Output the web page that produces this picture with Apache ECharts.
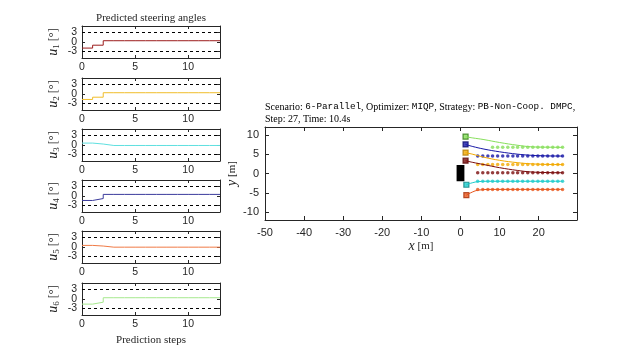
<!DOCTYPE html>
<html><head><meta charset="utf-8">
<script src="https://cdn.jsdelivr.net/npm/echarts@6/dist/echarts.min.js"></script>
<style>html,body{margin:0;padding:0;background:#fff}#c{width:640px;height:360px}</style>
</head><body><div id="c"></div>
<script>
// ---------- left: predicted steering angles (deg) per step ----------
const stepsEnd = 13;
const u1 = [-1.9, -1.0, 0.4, 0.4, 0.4, 0.4, 0.4, 0.4, 0.4, 0.4, 0.4, 0.4, 0.4];
const u2 = [-1.7, -1.0, 0.4, 0.4, 0.4, 0.4, 0.4, 0.4, 0.4, 0.4, 0.4, 0.4, 0.4];
const u3 = [0.6, 0.3, -0.15, -0.15, -0.15, -0.15, -0.15, -0.15, -0.15, -0.15, -0.15, -0.15, -0.15];
const u4 = [-1.4, -0.8, 0.5, 0.5, 0.5, 0.5, 0.5, 0.5, 0.5, 0.5, 0.5, 0.5, 0.5];
const u5 = [0.5, 0.3, -0.05, -0.05, -0.05, -0.05, -0.05, -0.05, -0.05, -0.05, -0.05, -0.05, -0.05];
const u6 = [-1.6, -1.0, 0.4, 0.4, 0.4, 0.4, 0.4, 0.4, 0.4, 0.4, 0.4, 0.4, 0.4];
const uSeries = [u1, u2, u3, u4, u5, u6];
const uColors = ['#9b1c1c', '#f0bd2a', '#5fe0e0', '#3b3b9c', '#f07a45', '#a6e88e'];
const uTickY = [-3, 0, 3];
const uLabelOuter = [-3, 3];
const uLabelMid = [0];
const uTickX = [0, 5, 10];
const uBounds = [3, -3];

// ---------- right: scenario plot ----------
const vehColors = ['#7a0c0c', '#f2a900', '#1ecccc', '#1616a6', '#e8561c', '#86df5a'];
const vehDark   = ['#5a0606', '#b07800', '#0a8080', '#0a0a70', '#a83008', '#2e7a12'];
const posX = [1.3, 1.3, 1.5, 1.3, 1.5, 1.3];
const posY = [3.3, 5.4, -2.9, 7.5, -5.6, 9.5];
const path1X = [1.3, 3, 6, 10, 14.5, 18, 22, 26.1];
const path1Y = [3.3, 2.9, 2.3, 1.5, 0.8, 0.4, 0.25, 0.2];
const path2X = [1.3, 3, 6, 10, 14.5, 18, 22, 26.1];
const path2Y = [5.4, 5.0, 4.2, 3.4, 2.8, 2.5, 2.35, 2.3];
const path3X = [1.5, 3, 4.5, 8, 26.1];
const path3Y = [-2.9, -2.4, -2.1, -2.0, -2.0];
const path4X = [1.3, 3, 6, 10, 14.5, 18, 22, 26.1];
const path4Y = [7.5, 7.0, 6.3, 5.6, 5.0, 4.7, 4.55, 4.5];
const path5X = [1.5, 3, 4.5, 8, 26.1];
const path5Y = [-5.6, -4.8, -4.3, -4.1, -4.1];
const path6X = [1.3, 3, 6, 10, 14.5, 18, 22, 26.1];
const path6Y = [9.5, 9.2, 8.75, 8.0, 7.3, 6.9, 6.8, 6.75];
const pathsX = [path1X, path2X, path3X, path4X, path5X, path6X];
const pathsY = [path1Y, path2Y, path3Y, path4Y, path5Y, path6Y];
const dotsX = [4.4, 5.7, 7.0, 8.2, 9.5, 10.8, 12.1, 13.4, 14.6, 15.9, 17.2, 18.5, 19.8, 21.0, 22.3, 23.6, 24.9, 26.1];
const dotsStart = [0, 0, 0, 0, 0, 3];
const dotsY = [0.2, 2.3, -2.0, 4.5, -4.1, 6.75];
const obstacle = [-1.0, 1.0, -2.0, 2.2]; // xmin, xmax, ymin, ymax
const xTickVals = [-50, -40, -30, -20, -10, 0, 10, 20];
const yTickVals = [-10, -5, 0, 5, 10];

const AX = '#262626';
const SANS = 'Liberation Sans';
const SERIF = 'Liberation Serif';
const MONO = 'Liberation Mono';

const line = {show: true, onZero: false, lineStyle: {color: AX, width: 1}};
const gridTops = [26, 78, 129, 180, 231, 283];
const grids = [], xAxes = [], yAxes = [], series = [];

gridTops.forEach((t, i) => {
  grids.push({left: 82, width: 138, top: t, height: 32});
  const last = i === gridTops.length - 1;
  xAxes.push({type: 'value', gridIndex: i, min: 0, max: stepsEnd, position: 'bottom',
    axisLine: line,
    axisTick: {show: true, inside: true, length: 3, customValues: uTickX, lineStyle: {color: AX}},
    axisLabel: {color: AX, fontFamily: SANS, fontSize: 10.5, margin: 4, customValues: uTickX},
    splitLine: {show: false},
    name: last ? 'Prediction steps' : '', nameLocation: 'middle', nameGap: 20,
    nameTextStyle: {fontFamily: SERIF, fontSize: 11, color: AX}});
  xAxes.push({type: 'value', gridIndex: i, min: 0, max: stepsEnd, position: 'top',
    axisLine: line,
    axisTick: {show: true, inside: true, length: 3, customValues: uTickX, lineStyle: {color: AX}},
    axisLabel: {show: false}, splitLine: {show: false}});
  yAxes.push({type: 'value', gridIndex: i, min: -5, max: 5, position: 'left',
    axisLine: line,
    axisTick: {show: true, inside: true, length: 3, customValues: uTickY, lineStyle: {color: AX}},
    axisLabel: {color: AX, fontFamily: SANS, fontSize: 10.5, margin: 5, customValues: uLabelOuter},
    splitLine: {show: false},
    name: '{i|u}{s|' + (i + 1) + '}{n| [°]}', nameLocation: 'middle', nameGap: 21, nameRotate: 90,
    nameTextStyle: {rich: {
      i: {fontFamily: SERIF, fontStyle: 'italic', fontSize: 14, color: AX},
      s: {fontFamily: SERIF, fontSize: 9, color: AX, padding: [6, 0, 0, 0]},
      n: {fontFamily: SERIF, fontSize: 12, color: AX}}}});
  yAxes.push({type: 'value', gridIndex: i, min: -5, max: 5, position: 'right',
    axisLine: line,
    axisTick: {show: true, inside: true, length: 3, customValues: uTickY, lineStyle: {color: AX}},
    axisLabel: {show: false}, splitLine: {show: false}});
  yAxes.push({type: 'value', gridIndex: i, min: -5, max: 5, position: 'left', offset: 0,
    axisLine: {show: false}, axisTick: {show: false},
    axisLabel: {color: AX, fontFamily: SANS, fontSize: 10.5, margin: 5, customValues: uLabelMid},
    splitLine: {show: false}});
  const data = uSeries[i].map((v, k) => [k, v]);
  data.push([stepsEnd, uSeries[i][uSeries[i].length - 1]]);
  series.push({type: 'line', xAxisIndex: 2 * i, yAxisIndex: 3 * i, data: data, step: 'end',
    showSymbol: false, lineStyle: {color: uColors[i], width: 1}, silent: true, animation: false,
    markLine: {silent: true, symbol: 'none', label: {show: false},
      lineStyle: {color: '#000', type: [3, 3], width: 1},
      data: uBounds.map(b => ({yAxis: b}))}});
});

// right plot grid index 6
const g = 6;
grids.push({left: 265, width: 312, top: 127, height: 93});
xAxes.push({type: 'value', gridIndex: g, min: -50, max: 29.8, position: 'bottom',
  axisLine: line,
  axisTick: {show: true, inside: true, length: 4, customValues: xTickVals, lineStyle: {color: AX}},
  axisLabel: {color: AX, fontFamily: SANS, fontSize: 11, margin: 7, customValues: xTickVals},
  splitLine: {show: false},
  name: '{i|x}{n| [m]}', nameLocation: 'middle', nameGap: 19,
  nameTextStyle: {rich: {i: {fontFamily: SERIF, fontStyle: 'italic', fontSize: 14, color: AX},
                         n: {fontFamily: SERIF, fontSize: 11, color: AX}}}});
xAxes.push({type: 'value', gridIndex: g, min: -50, max: 29.8, position: 'top',
  axisLine: line,
  axisTick: {show: true, inside: true, length: 4, customValues: xTickVals, lineStyle: {color: AX}},
  axisLabel: {show: false}, splitLine: {show: false}});
yAxes.push({type: 'value', gridIndex: g, min: -12, max: 12, position: 'left',
  axisLine: line,
  axisTick: {show: true, inside: true, length: 4, customValues: yTickVals, lineStyle: {color: AX}},
  axisLabel: {color: AX, fontFamily: SANS, fontSize: 11, margin: 6, customValues: yTickVals},
  splitLine: {show: false},
  name: '{i|y}{n| [m]}', nameLocation: 'middle', nameGap: 25, nameRotate: 90,
  nameTextStyle: {rich: {i: {fontFamily: SERIF, fontStyle: 'italic', fontSize: 14, color: AX},
                         n: {fontFamily: SERIF, fontSize: 11, color: AX}}}});
yAxes.push({type: 'value', gridIndex: g, min: -12, max: 12, position: 'right',
  axisLine: line,
  axisTick: {show: true, inside: true, length: 4, customValues: yTickVals, lineStyle: {color: AX}},
  axisLabel: {show: false}, splitLine: {show: false}});

const xi = 12, yi = 18;
series.push({type: 'line', xAxisIndex: xi, yAxisIndex: yi, data: [], silent: true, animation: false,
  markArea: {silent: true, itemStyle: {color: '#000'},
    data: [[{coord: [obstacle[0], obstacle[2]]}, {coord: [obstacle[1], obstacle[3]]}]]}});
for (let v = 0; v < 6; v++) {
  series.push({type: 'line', xAxisIndex: xi, yAxisIndex: yi, smooth: 0.4, showSymbol: false,
    data: pathsX[v].map((x, k) => [x, pathsY[v][k]]), silent: true, animation: false,
    lineStyle: {color: vehColors[v], width: 1}});
  series.push({type: 'scatter', xAxisIndex: xi, yAxisIndex: yi, symbol: 'circle', symbolSize: 3.5,
    data: dotsX.slice(dotsStart[v]).map(x => [x, dotsY[v]]), silent: true, animation: false,
    itemStyle: {color: vehColors[v]}});
}
for (let v = 0; v < 6; v++) {
  series.push({type: 'scatter', xAxisIndex: xi, yAxisIndex: yi, symbol: 'rect', symbolSize: 5,
    data: [[posX[v], posY[v]]], silent: true, animation: false,
    itemStyle: {color: vehColors[v], borderColor: vehDark[v], borderWidth: 1.2}});
}

const chart = echarts.init(document.getElementById('c'), null, {renderer: 'canvas'});
chart.setOption({
  animation: false,
  backgroundColor: '#fff',
  title: [
    {text: 'Predicted steering angles', left: 151, top: 13, textAlign: 'center', padding: 0,
     textStyle: {fontFamily: SERIF, fontSize: 11, fontWeight: 'normal', color: AX}},
    {text: '{r|Scenario: }{m|6-Parallel}{r|, Optimizer: }{m|MIQP}{r|, Strategy: }{m|PB-Non-Coop. DMPC}{r|,}\n{r|Step: 27, Time: 10.4s}',
     left: 265, top: 101, padding: 0,
     textStyle: {fontWeight: 'normal', rich: {
       r: {fontFamily: SERIF, fontSize: 10, fontWeight: 'normal', color: '#000', lineHeight: 12},
       m: {fontFamily: MONO, fontSize: 9.3, fontWeight: 'normal', color: '#000', lineHeight: 12}}}}
  ],
  grid: grids, xAxis: xAxes, yAxis: yAxes, series: series
});
</script></body></html>
